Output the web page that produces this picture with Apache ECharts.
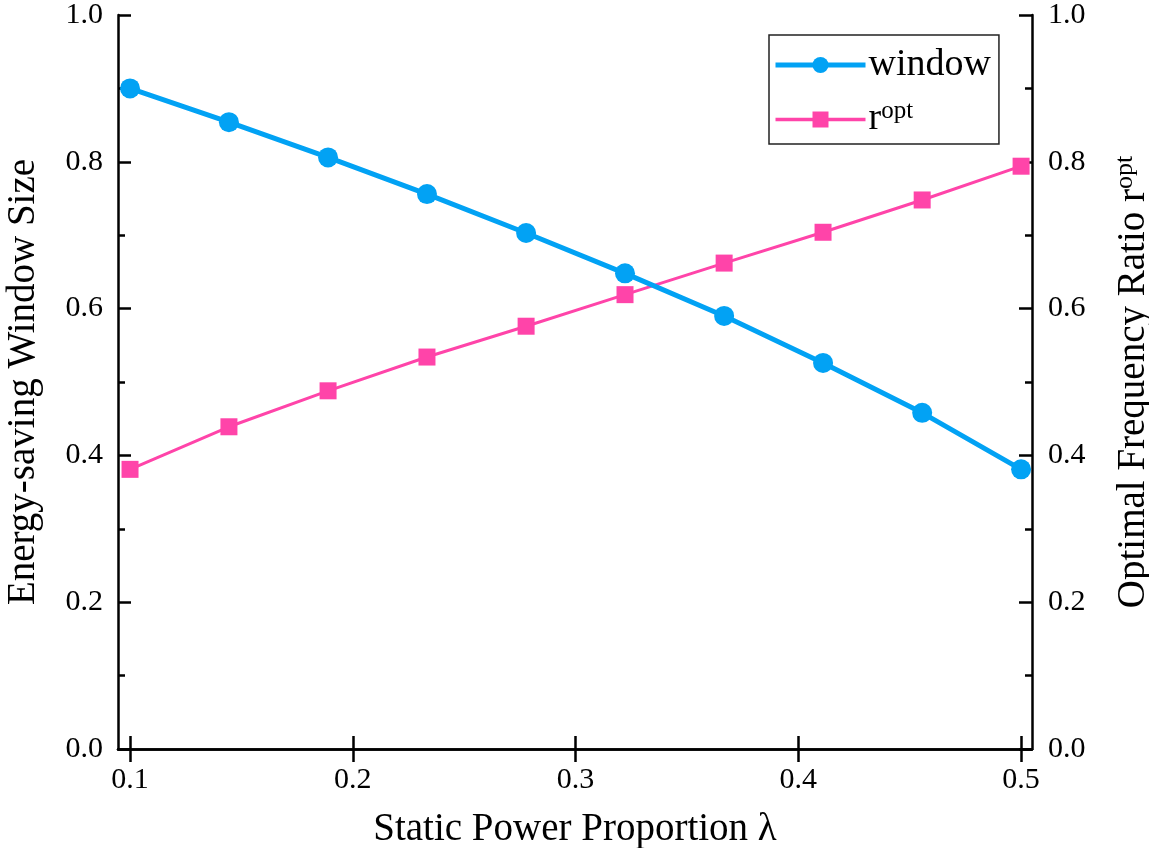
<!DOCTYPE html>
<html>
<head>
<meta charset="utf-8">
<script src="https://cdn.jsdelivr.net/npm/echarts@6/dist/echarts.min.js"></script>
<style>
html,body{margin:0;padding:0;background:#fff;overflow:hidden;}
#chart{position:absolute;left:0;top:0;width:1149px;height:848px;}
</style>
</head>
<body>
<div id="chart"></div>
<script>
// Static power proportion λ (x) and the two measured curves
const lambdaValues = [0.1, 0.1444, 0.1889, 0.2333, 0.2778, 0.3222, 0.3667, 0.4111, 0.4556, 0.5];
const windowSize   = [0.900, 0.854, 0.806, 0.756, 0.703, 0.648, 0.590, 0.526, 0.458, 0.381];
const rOpt         = [0.381, 0.439, 0.488, 0.534, 0.576, 0.619, 0.662, 0.704, 0.748, 0.794];
const xTicks = [0.1, 0.2, 0.3, 0.4, 0.5];

const FONT = '"Liberation Serif", "DejaVu Serif", serif';
const BLUE = '#02A2F4';
const PINK = '#FF44A9';

const pairs = (xs, ys) => xs.map((x, i) => [x, ys[i]]);

const chart = echarts.init(document.getElementById('chart'), null, {renderer: 'canvas', width: 1149, height: 848});

const axisLine = {show: true, lineStyle: {color: '#000', width: 2.5}};
const supRich = {
  base: {fontFamily: FONT, fontSize: 39, color: '#000', lineHeight: 40},
  sup: {fontFamily: FONT, fontSize: 26, color: '#000', lineHeight: 40, padding: [0, 0, 18, 0]}
};

chart.setOption({
  animation: false,
  backgroundColor: '#fff',
  grid: {left: 118, right: 117, top: 15, bottom: 99, containLabel: false, outerBoundsMode: 'none'},
  legend: {
    left: 769, top: 35,
    orient: 'vertical',
    padding: [11, 8, 4, 4],
    borderColor: '#222', borderWidth: 1.5,
    itemWidth: 90, itemHeight: 20, itemGap: 15,
    textStyle: {fontFamily: FONT, fontSize: 38, color: '#000', lineHeight: 36, padding: [0, 0, 0, -2], rich: {
      base: {fontFamily: FONT, fontSize: 38, color: '#000', lineHeight: 36},
      sup: {fontFamily: FONT, fontSize: 25, color: '#000', lineHeight: 36, padding: [0, 0, 16, 0]}
    }},
    formatter: name => name === 'ropt' ? '{base|r}{sup|opt}' : name,
    data: [
      {name: 'window', lineStyle: {width: 5, color: BLUE}},
      {name: 'ropt', lineStyle: {width: 3.5, color: PINK}}
    ]
  },
  xAxis: [{
    type: 'value', position: 'bottom',
    min: 0.0946, max: 0.5049,
    name: 'Static Power Proportion λ',
    nameLocation: 'middle', nameGap: 61,
    nameTextStyle: {fontFamily: FONT, fontSize: 39, color: '#000'},
    axisLine: axisLine,
    axisTick: {show: true, inside: true, length: 13, lineStyle: {color: '#000', width: 2.5}, customValues: xTicks},
    axisLabel: {fontFamily: FONT, fontSize: 30, color: '#000', margin: 16, customValues: xTicks,
      formatter: v => v.toFixed(1)},
    splitLine: {show: false}
  }, {
    type: 'value', position: 'top',
    min: 0.0946, max: 0.5049,
    axisLine: axisLine,
    axisTick: {show: true, inside: true, length: 13, lineStyle: {color: '#000', width: 2.5}, customValues: xTicks},
    axisLabel: {show: false},
    splitLine: {show: false}
  }],
  yAxis: [{
    type: 'value', position: 'left',
    min: 0, max: 1, interval: 0.2,
    name: 'Energy-saving Window Size',
    nameLocation: 'middle', nameGap: 75, nameRotate: 90,
    nameTextStyle: {fontFamily: FONT, fontSize: 39, color: '#000'},
    axisLine: axisLine,
    axisTick: {show: true, inside: true, length: 13, lineStyle: {color: '#000', width: 2.5}},
    minorTick: {show: true, splitNumber: 2, length: 7, lineStyle: {color: '#000', width: 2.5}},
    axisLabel: {fontFamily: FONT, fontSize: 30, color: '#000', margin: 15, formatter: v => v.toFixed(1)},
    splitLine: {show: false}
  }, {
    type: 'value', position: 'right',
    min: 0, max: 1, interval: 0.2,
    name: '{base|Optimal Frequency Ratio r}{sup|opt}',
    nameLocation: 'middle', nameGap: 82, nameRotate: 90,
    nameTextStyle: {rich: supRich},
    axisLine: axisLine,
    axisTick: {show: true, inside: true, length: 13, lineStyle: {color: '#000', width: 2.5}},
    minorTick: {show: true, splitNumber: 2, length: 7, lineStyle: {color: '#000', width: 2.5}},
    axisLabel: {fontFamily: FONT, fontSize: 30, color: '#000', margin: 16, formatter: v => v.toFixed(1)},
    splitLine: {show: false}
  }],
  series: [{
    name: 'window', type: 'line',
    xAxisIndex: 0, yAxisIndex: 0,
    data: pairs(lambdaValues, windowSize),
    symbol: 'circle', symbolSize: 20,
    lineStyle: {color: BLUE, width: 5},
    itemStyle: {color: BLUE},
    z: 3
  }, {
    name: 'ropt', type: 'line',
    xAxisIndex: 0, yAxisIndex: 1,
    data: pairs(lambdaValues, rOpt),
    symbol: 'rect', symbolSize: 17,
    lineStyle: {color: PINK, width: 3},
    itemStyle: {color: PINK},
    z: 2
  }]
});
</script>
</body>
</html>
